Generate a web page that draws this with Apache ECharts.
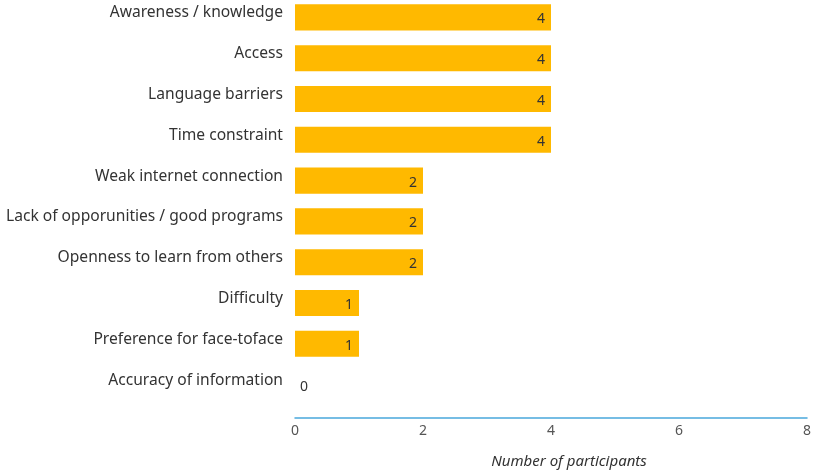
<!DOCTYPE html>
<html>
<head>
<meta charset="utf-8">
<script src="https://cdn.jsdelivr.net/npm/echarts@6/dist/echarts.min.js"></script>
<style>
  html, body { margin: 0; padding: 0; background: #fff; }
  #chart { width: 813px; height: 474px; }
</style>
</head>
<body>
<div id="chart"></div>
<script>
// Barriers to online learning, by number of participants
const categories = [
  'Awareness / knowledge',
  'Access',
  'Language barriers',
  'Time constraint',
  'Weak internet connection',
  'Lack of opporunities / good programs',
  'Openness to learn from others',
  'Difficulty',
  'Preference for face-toface',
  'Accuracy of information'
];
const participants = [4, 4, 4, 4, 2, 2, 2, 1, 1, 0];
const xTicks = [0, 2, 4, 6, 8];

const FONT = '"Noto Sans", "Open Sans", sans-serif';

const chart = echarts.init(document.getElementById('chart'), null, { renderer: 'canvas' });

const seriesData = participants.map(v => v === 0
  ? { value: v, label: { position: 'right', distance: 5 } }
  : v);

chart.setOption({
  animation: false,
  grid: { left: 295, right: 6, top: -3, height: 408, containLabel: false, outerBoundsMode: 'none' },
  xAxis: {
    type: 'value',
    min: xTicks[0],
    max: xTicks[xTicks.length - 1],
    interval: 2,
    offset: 13,
    axisLine: { show: true, lineStyle: { color: '#4aa8dc', width: 1.5 } },
    axisTick: { show: false },
    splitLine: { show: false },
    axisLabel: { color: '#555', fontSize: 14, fontFamily: FONT, margin: 6 },
    name: 'Number of participants',
    nameLocation: 'middle',
    nameGap: 36,
    nameTextStyle: { color: '#333', fontSize: 15, fontStyle: 'italic', fontFamily: FONT, padding: [0, 0, 0, 36] }
  },
  yAxis: {
    type: 'category',
    inverse: true,
    data: categories,
    axisLine: { show: false },
    axisTick: { show: false },
    axisLabel: {
      margin: 12,
      // category names sit a little above the bar centre
      formatter: v => '{c|' + v + '}',
      rich: {
        c: { color: '#333', fontSize: 15.6, fontFamily: FONT, padding: [0, 0, 9, 0] }
      }
    }
  },
  series: [{
    type: 'bar',
    data: seriesData,
    barCategoryGap: '36%',
    itemStyle: { color: '#FFB900' },
    label: {
      show: true,
      position: 'insideRight',
      distance: 6,
      offset: [0, 2],
      color: '#333',
      fontSize: 14,
      fontFamily: FONT
    }
  }]
});
</script>
</body>
</html>
